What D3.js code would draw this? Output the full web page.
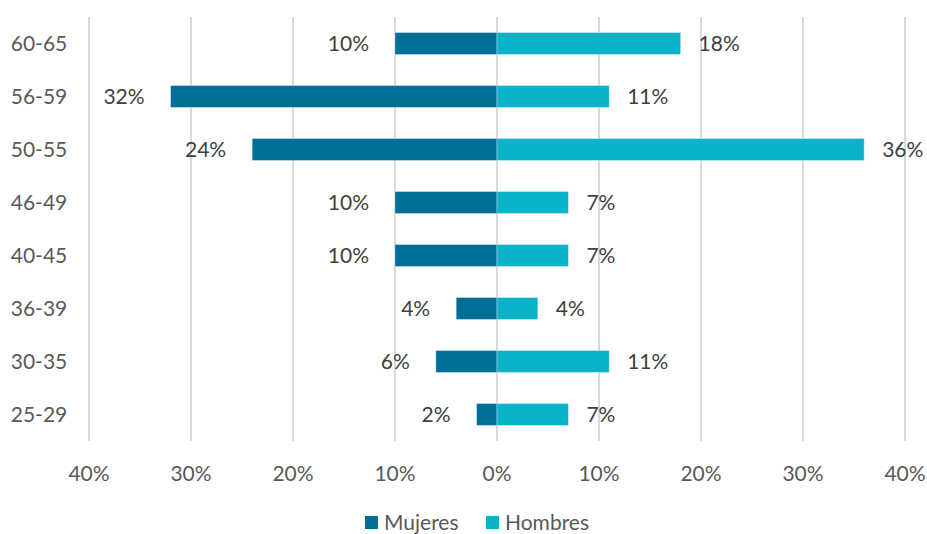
<!DOCTYPE html>
<html>
<head>
<meta charset="utf-8">
<script src="https://cdn.jsdelivr.net/npm/d3@7"></script>
<style>
  body { margin: 0; background: #fff; }
  svg text { font-family: Lato, "Open Sans", sans-serif; }
</style>
</head>
<body>
<div id="chart"></div>
<script>
// age groups, top to bottom
var groups = ["60-65", "56-59", "50-55", "46-49", "40-45", "36-39", "30-35", "25-29"];
var mujeres = [10, 32, 24, 10, 10, 4, 6, 2];
var hombres = [18, 11, 36, 7, 7, 4, 11, 7];
var ticks = [-40, -30, -20, -10, 0, 10, 20, 30, 40];
var series_names = ["Mujeres", "Hombres"];

var width = 927, height = 534;
var colors = {Mujeres: "#006f96", Hombres: "#08b2c9"};

var svg = d3.select("#chart").append("svg")
    .attr("width", width)
    .attr("height", height);

var x = d3.scaleLinear().domain([-40, 40]).range([89, 905]);
var y = d3.scaleBand().domain(groups).range([17, 441]).paddingInner(0.585).paddingOuter(0.2925);

// gridlines
svg.selectAll(".grid")
    .data(ticks)
    .enter()
    .append("line")
        .attr("x1", function(d){ return x(d); })
        .attr("x2", function(d){ return x(d); })
        .attr("y1", 17)
        .attr("y2", 441)
        .style("stroke", "#d9d9d9")
        .style("stroke-width", "2px");

// x tick labels
svg.selectAll(".xtick")
    .data(ticks)
    .enter()
    .append("text")
        .attr("x", function(d){ return x(d); })
        .attr("y", 474)
        .attr("dy", "0.35em")
        .attr("text-anchor", "middle")
        .attr("font-size", "21px")
        .attr("fill", "#595959")
        .text(function(d){ return Math.abs(d) + "%"; });

// category labels
svg.selectAll(".ytick")
    .data(groups)
    .enter()
    .append("text")
        .attr("x", 39)
        .attr("y", function(d){ return y(d) + y.bandwidth() / 2; })
        .attr("dy", "0.35em")
        .attr("text-anchor", "middle")
        .attr("font-size", "21px")
        .attr("fill", "#595959")
        .text(function(d){ return d; });

// mujeres bars (left)
svg.selectAll(".bar-m")
    .data(mujeres)
    .enter()
    .append("rect")
        .attr("x", function(d){ return x(-d); })
        .attr("y", function(d, i){ return y(groups[i]); })
        .attr("width", function(d){ return x(0) - x(-d); })
        .attr("height", y.bandwidth())
        .style("fill", colors.Mujeres)
        .style("stroke", "rgba(255,255,255,0.35)")
        .style("stroke-width", "1px");

// hombres bars (right)
svg.selectAll(".bar-h")
    .data(hombres)
    .enter()
    .append("rect")
        .attr("x", x(0))
        .attr("y", function(d, i){ return y(groups[i]); })
        .attr("width", function(d){ return x(d) - x(0); })
        .attr("height", y.bandwidth())
        .style("fill", colors.Hombres)
        .style("stroke", "rgba(255,255,255,0.35)")
        .style("stroke-width", "1px");

// value labels
svg.selectAll(".lab-m")
    .data(mujeres)
    .enter()
    .append("text")
        .attr("x", function(d){ return x(-d) - 26; })
        .attr("y", function(d, i){ return y(groups[i]) + y.bandwidth() / 2; })
        .attr("dy", "0.35em")
        .attr("text-anchor", "end")
        .attr("font-size", "21px")
        .attr("fill", "#404040")
        .text(function(d){ return d + "%"; });

svg.selectAll(".lab-h")
    .data(hombres)
    .enter()
    .append("text")
        .attr("x", function(d){ return x(d) + 18; })
        .attr("y", function(d, i){ return y(groups[i]) + y.bandwidth() / 2; })
        .attr("dy", "0.35em")
        .attr("text-anchor", "start")
        .attr("font-size", "21px")
        .attr("fill", "#404040")
        .text(function(d){ return d + "%"; });

// legend (sits at the very bottom edge)
var legend_x = [365, 486];
var legend = svg.selectAll(".legend")
    .data(series_names)
    .enter()
    .append("g")
        .attr("transform", function(d, i){ return "translate(" + legend_x[i] + ",516)"; });

legend.append("rect")
    .attr("width", 13)
    .attr("height", 13)
    .style("fill", function(d){ return colors[d]; });

legend.append("text")
    .attr("x", 19)
    .attr("y", 7)
    .attr("dy", "0.35em")
    .attr("font-size", "21px")
    .attr("fill", "#595959")
    .text(function(d){ return d; });
</script>
</body>
</html>
